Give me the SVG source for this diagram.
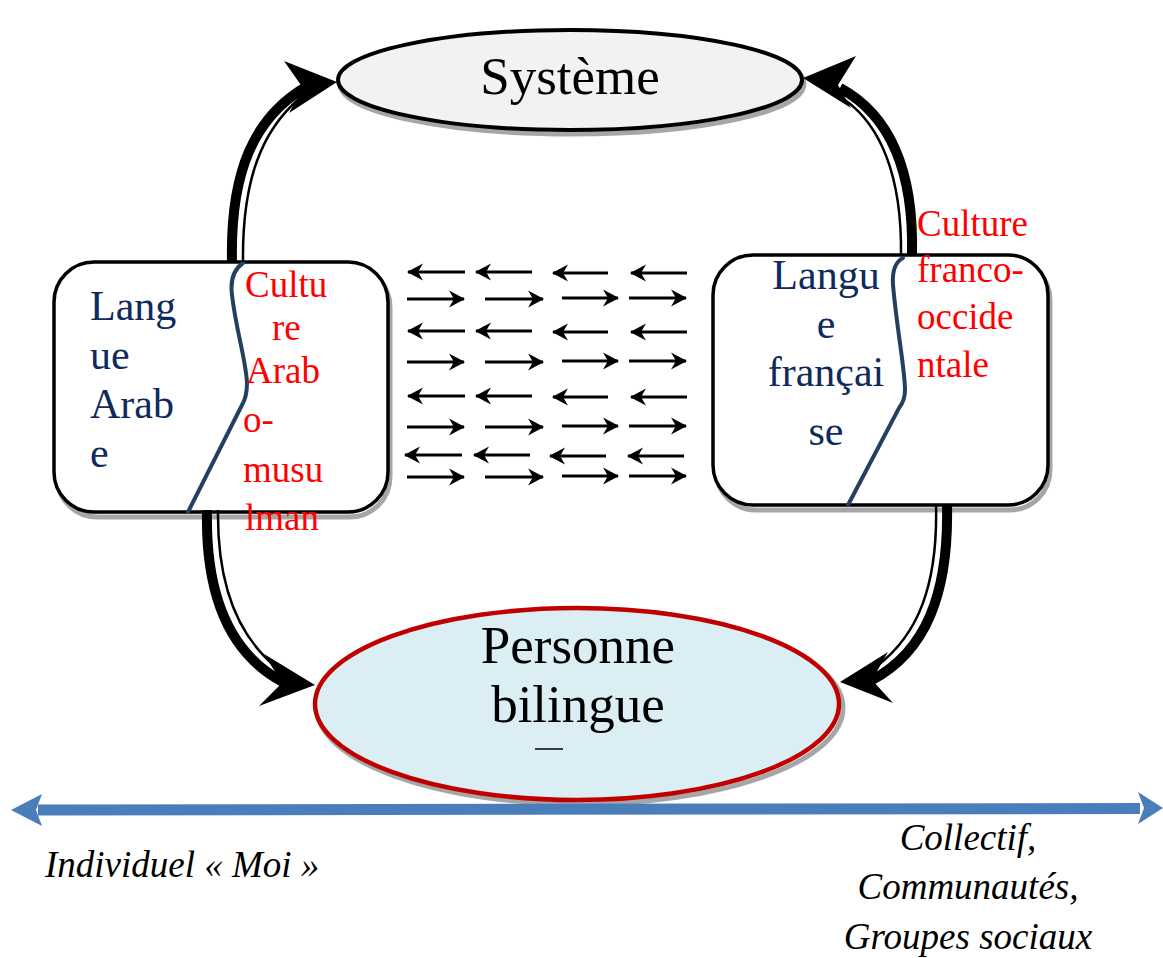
<svg xmlns="http://www.w3.org/2000/svg" width="1163" height="958" viewBox="0 0 1163 958">
<style>
  .serif { font-family: "Liberation Serif", "Times New Roman", serif; }
  .navy { fill: #0f2a5c; font-size: 42px; }
  .red { fill: #ff0000; font-size: 37px; }
  .big { fill: #000; font-size: 53px; }
  .ital { fill: #000; font-size: 37px; font-style: italic; }
  .divider { fill: none; stroke: #243f60; stroke-width: 4; stroke-linecap: round; }
  .thick { fill: none; stroke: #000; stroke-width: 10; }
  .thin { fill: none; stroke: #000; stroke-width: 2.5; }
  .small { stroke: #000; stroke-width: 3; marker-end: url(#sh); }
  .shadow { fill: none; stroke: #a6a6a6; stroke-width: 5; }
</style>
<defs>
  <marker id="sh" markerUnits="userSpaceOnUse" markerWidth="20" markerHeight="20" viewBox="-17 -10 20 20" refX="0" refY="0" orient="auto">
    <path d="M1,0 L-15,-8.5 L-10,0 L-15,8.5 Z" fill="#000"/>
  </marker>
</defs>
<rect width="1163" height="958" fill="#fff"/>

<!-- Système -->
<g id="systeme">
  <ellipse cx="572" cy="84" rx="232" ry="50" class="shadow"/>
  <ellipse cx="570" cy="80" rx="232" ry="50" fill="#f2f2f2" stroke="#000" stroke-width="4"/>
  <text x="570" y="94" text-anchor="middle" class="serif big">Système</text>
</g>

<!-- Langue Arabe -->
<g id="langue-arabe">
  <rect x="57" y="267" width="333" height="250" rx="40" class="shadow"/>
  <rect x="54" y="262" width="334" height="250" rx="40" fill="#fff" stroke="#000" stroke-width="3.5"/>
  <path class="divider" d="M243,263 C233,270 230,280 232,295 C236,330 246,360 247,383 C247,395 245,400 242,405 L188,512"/>
  <text class="serif navy" x="90"><tspan x="90" y="320">Lang</tspan><tspan x="90" y="369">ue</tspan><tspan x="90" y="418">Arab</tspan><tspan x="90" y="467">e</tspan></text>
  <text class="serif red"><tspan x="245" y="297">Cultu</tspan><tspan x="272" y="340">re</tspan><tspan x="246" y="383">Arab</tspan><tspan x="243" y="432">o-</tspan><tspan x="243" y="482">musu</tspan><tspan x="245" y="530">lman</tspan></text>
</g>

<!-- Langue française -->
<g id="langue-francaise">
  <rect x="716" y="260" width="334" height="250" rx="40" class="shadow"/>
  <rect x="713" y="255" width="335" height="250" rx="40" fill="#fff" stroke="#000" stroke-width="3.5"/>
  <path class="divider" d="M903,258 C895,262 892,270 893,285 C897,330 905,370 905,390 C905,398 903,403 899,408 L848,505"/>
  <text class="serif navy" text-anchor="middle"><tspan x="826" y="289">Langu</tspan><tspan x="826" y="338">e</tspan><tspan x="826" y="386">françai</tspan><tspan x="826" y="445">se</tspan></text>
  <text class="serif red"><tspan x="917" y="236">Culture</tspan><tspan x="917" y="282">franco-</tspan><tspan x="917" y="329">occide</tspan><tspan x="917" y="377">ntale</tspan></text>
</g>

<!-- Personne bilingue -->
<g id="personne-bilingue">
  <ellipse cx="580" cy="708" rx="263" ry="96" class="shadow"/>
  <ellipse cx="577" cy="704" rx="262" ry="96" fill="#daeef3" stroke="#c00000" stroke-width="4.5"/>
  <text class="serif big" text-anchor="middle"><tspan x="578" y="663">Personne</tspan><tspan x="578" y="722">bilingue</tspan></text>
  <line x1="535" y1="749" x2="563" y2="749" stroke="#000" stroke-width="1.5"/>
</g>

<!-- connectors -->
<g id="connectors">
  <!-- upper left -->
  <path class="thick" d="M232,262 C230,170 255,118 304,88"/>
  <path class="thin" d="M243,262 C242,180 262,130 300,98"/>
  <path d="M337,82 L284,61 L303,88 L289,113 Z" fill="#000"/>
  <!-- upper right -->
  <path class="thick" d="M912,255 C914,170 890,115 840,88"/>
  <path class="thin" d="M901,255 C902,175 880,125 845,100"/>
  <path d="M803,78 L856,56 L838,85 L851,108 Z" fill="#000"/>
  <!-- lower left -->
  <path class="thick" d="M207,510 C205,600 232,655 283,682"/>
  <path class="thin" d="M218,510 C217,590 240,640 280,670"/>
  <path d="M315,685 L264,654 L282,683 L259,706 Z" fill="#000"/>
  <!-- lower right -->
  <path class="thick" d="M947,505 C949,595 925,652 872,680"/>
  <path class="thin" d="M936,505 C938,585 918,635 877,666"/>
  <path d="M840,682 L888,652 L872,680 L893,703 Z" fill="#000"/>

  <!-- small arrows grid -->
  <g>
    <line class="small" x1="465" y1="272" x2="408" y2="272"/>
    <line class="small" x1="532" y1="272" x2="476" y2="272"/>
    <line class="small" x1="608" y1="273" x2="553" y2="273"/>
    <line class="small" x1="687" y1="273" x2="631" y2="273"/>

    <line class="small" x1="407" y1="299" x2="464" y2="299"/>
    <line class="small" x1="485" y1="299" x2="543" y2="299"/>
    <line class="small" x1="562" y1="298" x2="618" y2="298"/>
    <line class="small" x1="629" y1="298" x2="686" y2="298"/>

    <line class="small" x1="465" y1="331" x2="408" y2="331"/>
    <line class="small" x1="532" y1="331" x2="476" y2="331"/>
    <line class="small" x1="608" y1="332" x2="553" y2="332"/>
    <line class="small" x1="687" y1="332" x2="631" y2="332"/>

    <line class="small" x1="407" y1="362" x2="464" y2="362"/>
    <line class="small" x1="485" y1="362" x2="543" y2="362"/>
    <line class="small" x1="562" y1="361" x2="618" y2="361"/>
    <line class="small" x1="629" y1="361" x2="686" y2="361"/>

    <line class="small" x1="465" y1="396" x2="408" y2="396"/>
    <line class="small" x1="532" y1="396" x2="476" y2="396"/>
    <line class="small" x1="608" y1="397" x2="553" y2="397"/>
    <line class="small" x1="687" y1="397" x2="631" y2="397"/>

    <line class="small" x1="407" y1="427" x2="464" y2="427"/>
    <line class="small" x1="485" y1="427" x2="543" y2="427"/>
    <line class="small" x1="562" y1="426" x2="618" y2="426"/>
    <line class="small" x1="629" y1="426" x2="686" y2="426"/>

    <line class="small" x1="462" y1="455" x2="405" y2="455"/>
    <line class="small" x1="530" y1="455" x2="474" y2="455"/>
    <line class="small" x1="606" y1="456" x2="550" y2="456"/>
    <line class="small" x1="684" y1="456" x2="628" y2="456"/>

    <line class="small" x1="407" y1="477" x2="464" y2="477"/>
    <line class="small" x1="485" y1="477" x2="543" y2="477"/>
    <line class="small" x1="562" y1="476" x2="618" y2="476"/>
    <line class="small" x1="629" y1="476" x2="686" y2="476"/>
  </g>
</g>

<!-- axis -->
<g id="axe">
  <path d="M38,804.5 L1140,803 L1140,814 L38,815.5 Z" fill="#4a7ebb"/>
  <path d="M11,810 L42,794 L36,810 L42,826 Z" fill="#4a7ebb"/>
  <path d="M1163,808 L1138,792 L1144,808 L1138,824 Z" fill="#4a7ebb"/>
</g>

<g id="labels">
  <text x="45" y="877" class="serif ital">Individuel « Moi »</text>
  <text class="serif ital" text-anchor="middle"><tspan x="968" y="850">Collectif,</tspan><tspan x="968" y="899">Communautés,</tspan><tspan x="968" y="949">Groupes sociaux</tspan></text>
</g>
</svg>
